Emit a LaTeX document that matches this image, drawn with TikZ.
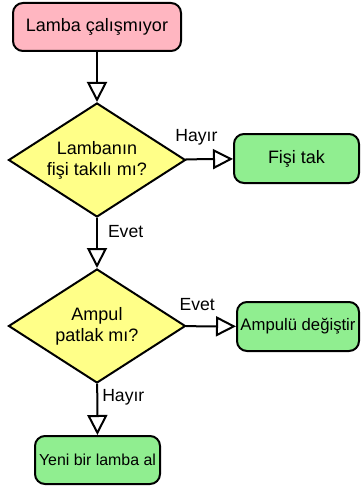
\documentclass[tikz,border=0pt]{standalone}
\usepackage{fontspec}
\setmainfont{Liberation Sans}
\usetikzlibrary{shapes.geometric,arrows.meta}
\definecolor{pinkfill}{RGB}{255,182,193}
\definecolor{yelfill}{RGB}{255,255,136}
\definecolor{grnfill}{RGB}{144,238,144}
\begin{document}
\begin{tikzpicture}[x=1pt,y=-1pt,
  font=\fontsize{17.6}{21}\selectfont,
  box/.style={draw, line width=2pt, rounded corners=10pt, inner sep=0pt, align=center,
    font=\fontsize{18}{21}\selectfont},
  dec/.style={draw, diamond, aspect=1.55, line width=2pt, fill=yelfill, inner sep=0pt,
    minimum width=177pt, minimum height=114pt, align=center, font=\fontsize{18}{21}\selectfont},
  flow/.style={line width=2pt, -{Triangle[length=20pt,width=20pt,fill=white]}},
  lab/.style={inner sep=0pt}
]
\useasboundingbox (0,0) rectangle (360,487);
\node[box, fill=pinkfill, minimum width=168pt, minimum height=48pt] (top) at (97,27) {Lamba çalışmıyor};
\node[dec] (d1) at (97,160) {Lambanın\\fişi takılı mı?};
\node[box, fill=grnfill, minimum width=125pt, minimum height=49pt] (fis) at (296.5,158.5) {Fişi tak};
\node[dec] (d2) at (97,326) {Ampul\\patlak mı?};
\node[box, fill=grnfill, minimum width=122pt, minimum height=49pt, font=\fontsize{16.7}{20}\selectfont] (amp) at (298,326.5) {Ampulü değiştir};
\node[box, fill=grnfill, minimum width=125pt, minimum height=48pt, font=\fontsize{15.9}{19}\selectfont] (yeni) at (97.5,460) {Yeni bir lamba al};

\draw[flow] (top) -- (d1);
\draw[flow] (d1) -- node[lab, anchor=base, pos=.23, yshift=17.5pt] {Hayır} (fis);
\draw[flow] (d1) -- node[lab, anchor=base west, pos=.38, xshift=10pt] {Evet} (d2);
\draw[flow] (d2) -- node[lab, anchor=base, pos=.22, yshift=16pt] {Evet} (amp);
\draw[flow] (d2) -- node[lab, anchor=base west, pos=.34, xshift=4pt] {Hayır} (yeni);
\end{tikzpicture}
\end{document}
